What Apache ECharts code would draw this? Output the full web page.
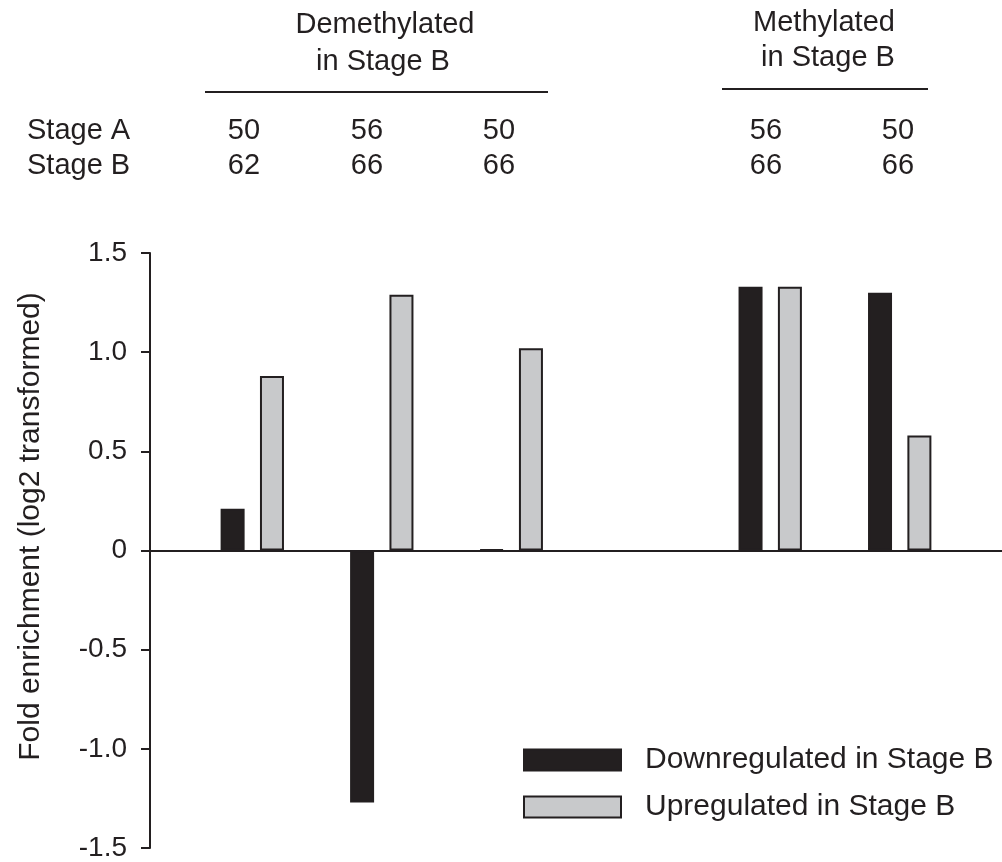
<!DOCTYPE html>
<html>
<head>
<meta charset="utf-8">
<script src="https://cdn.jsdelivr.net/npm/echarts@6/dist/echarts.min.js"></script>
<style>
html,body{margin:0;padding:0;background:#fff;}
#chart{width:1002px;height:862px;}
</style>
</head>
<body>
<div id="chart"></div>
<script>
// ---- data ----
const groupPositions = [1, 2, 3, 5, 6];            // slot of each comparison on the x scale (slot 4 left empty)
const downregulated = [0.21, -1.27, 0.005, 1.33, 1.30];
const upregulated   = [0.88, 1.29, 1.02, 1.33, 0.58];
const stageA = [50, 56, 50, 56, 50];
const stageB = [62, 66, 66, 66, 66];
const yTicks = [-1.5, -1.0, -0.5, 0, 0.5, 1.0, 1.5];
const seriesNames = ['Downregulated in Stage B', 'Upregulated in Stage B'];
const headerGroups = ['Demethylated', 'Methylated'];
const rowLabels = ['Stage A', 'Stage B'];

// ---- layout / style (not data) ----
const FONT = '"Liberation Sans", Arial, Helvetica, sans-serif';
const INK = '#231f20';
const LIGHT = '#c8c9cb';
const headerNumberX = [244, 367, 499, 766, 898];

const chart = echarts.init(document.getElementById('chart'), null, {renderer: 'canvas'});

const toPairs = vals => vals.map((v, i) => [groupPositions[i], v]);

const hdr = (txt, x, y) => ({
  type: 'text', x: x, y: y,
  style: {text: txt, font: '29px ' + FONT, fill: INK, align: 'center', verticalAlign: 'middle'}
});
const graphics = [];
graphics.push(hdr(headerGroups[0], 385, 25));
graphics.push(hdr('in Stage B', 383, 62));
graphics.push(hdr(headerGroups[1], 824, 23));
graphics.push(hdr('in Stage B', 828, 58));
graphics.push({type: 'line', shape: {x1: 205, y1: 92, x2: 548, y2: 92}, style: {stroke: INK, lineWidth: 2}});
graphics.push({type: 'line', shape: {x1: 722, y1: 89, x2: 928, y2: 89}, style: {stroke: INK, lineWidth: 2}});
rowLabels.forEach((t, r) => {
  graphics.push({type: 'text', x: 27, y: 131 + r * 35,
    style: {text: t, font: '29px ' + FONT, fill: INK, align: 'left', verticalAlign: 'middle'}});
});
[stageA, stageB].forEach((row, r) => {
  row.forEach((v, i) => {
    graphics.push(hdr(String(v), headerNumberX[i], 131 + r * 35));
  });
});

const option = {
  backgroundColor: '#fff',
  animation: false,
  textStyle: {fontFamily: FONT, color: INK},
  grid: {left: 150, right: 0, top: 253, height: 596, containLabel: false},
  xAxis: {
    type: 'value', min: 0.21, max: 6.79,
    axisLine: {show: true, onZero: true, lineStyle: {color: INK, width: 2}},
    axisTick: {show: false}, axisLabel: {show: false}, splitLine: {show: false}
  },
  yAxis: {
    type: 'value', min: yTicks[0], max: yTicks[yTicks.length - 1], interval: 0.5,
    name: 'Fold enrichment (log2 transformed)',
    nameLocation: 'middle', nameGap: 104,
    nameTextStyle: {fontSize: 30, color: INK, fontFamily: FONT, padding: [0, 0, 0, 48]},
    axisLine: {show: true, onZero: false, lineStyle: {color: INK, width: 2}},
    axisTick: {show: true, length: 9, inside: false, lineStyle: {color: INK, width: 2}},
    axisLabel: {fontSize: 28, color: INK, margin: 23, fontFamily: FONT,
      formatter: v => (v === 0 ? '0' : v.toFixed(1))},
    splitLine: {show: false}
  },
  legend: {
    orient: 'vertical', left: 518, top: 740, itemWidth: 97, itemHeight: 21, itemGap: 17,
    icon: 'rect',
    textStyle: {fontSize: 30, color: INK, fontFamily: FONT, padding: [0, 0, 0, 19]},
    data: seriesNames
  },
  series: [
    {
      name: seriesNames[0], type: 'bar', barWidth: 24, barGap: '64%',
      itemStyle: {color: INK, borderColor: INK, borderWidth: 2},
      data: toPairs(downregulated)
    },
    {
      name: seriesNames[1], type: 'bar', barWidth: 24, barGap: '64%',
      itemStyle: {color: LIGHT, borderColor: INK, borderWidth: 2},
      data: toPairs(upregulated)
    }
  ],
  graphic: graphics
};
chart.setOption(option);
</script>
</body>
</html>
